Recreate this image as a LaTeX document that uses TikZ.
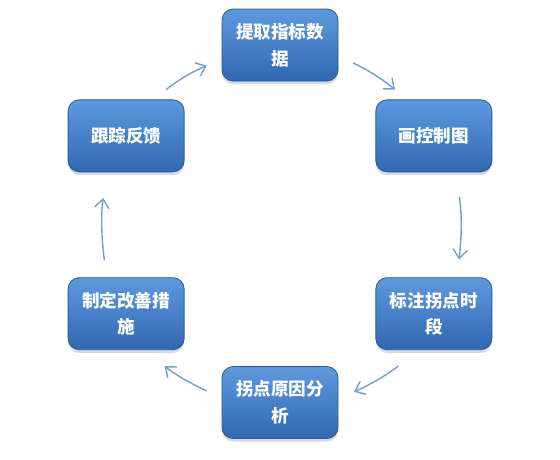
\documentclass[tikz,border=0pt]{standalone}
\usepackage{tikz}
\usetikzlibrary{arrows.meta, positioning, shadows}
\usepackage{fontspec}
\newfontfamily\cjk{Noto Sans CJK SC}
\definecolor{boxlight}{HTML}{5E99DE}
\definecolor{boxblue}{HTML}{3F7ECB}
\definecolor{boxdark}{HTML}{3068B2}
\definecolor{boxedge}{HTML}{2A5C9E}
\definecolor{arrowblue}{HTML}{6F9ED8}

\begin{document}
\begin{tikzpicture}[
    node distance=1.5cm,
    every node/.style={font=\cjk\bfseries\fontsize{12.5}{19}\selectfont},
    stepbox/.style={draw=boxedge, line width=0.6pt, rounded corners=8pt, minimum width=2.9cm, minimum height=1.8cm, align=center, text=white,
        top color=boxlight, middle color=boxblue, bottom color=boxdark,
        drop shadow={opacity=0.3, shadow xshift=0pt, shadow yshift=-0.08cm}},
    arrow/.style={-{Straight Barb[length=2.2mm, width=3.6mm]}, line width=1pt, draw=arrowblue}
]
    \useasboundingbox (0,0) rectangle (14,11.475);

    \node[stepbox] (extract) at (7,10.35) {提取指标数\\据};
    \node[stepbox, below right=0.45cm and 0.925cm of extract] (chart) {画控制图};
    \node[stepbox, below=2.625cm of chart] (mark) {标注拐点时\\段};
    \node[stepbox, below left=0.4cm and 0.925cm of mark] (cause) {拐点原因分\\析};
    \node[stepbox, above left=0.4cm and 0.925cm of cause] (improve) {制定改善措\\施};
    \node[stepbox, above=2.625cm of improve] (track) {跟踪反馈};

    \draw[arrow, shorten <=0.4cm, shorten >=0.375cm] (extract.-11) to[bend left=8] (chart.127);
    \draw[arrow, shorten <=0.625cm, shorten >=0.45cm] (chart.-59) to[bend left=8] (mark.58);
    \draw[arrow, shorten <=0.625cm, shorten >=0.425cm] (mark.-114) to[bend left=8] (cause.4);
    \draw[arrow, shorten <=0.4cm, shorten >=0.625cm] (cause.175) to[bend left=8] (improve.-62);
    \draw[arrow, shorten <=0.425cm, shorten >=0.65cm] (improve.118) to[bend left=8] (track.-118);
    \draw[arrow, shorten <=0.4cm, shorten >=0.4cm] (track.53) to[bend left=8] (extract.-166);
\end{tikzpicture}
\end{document}
